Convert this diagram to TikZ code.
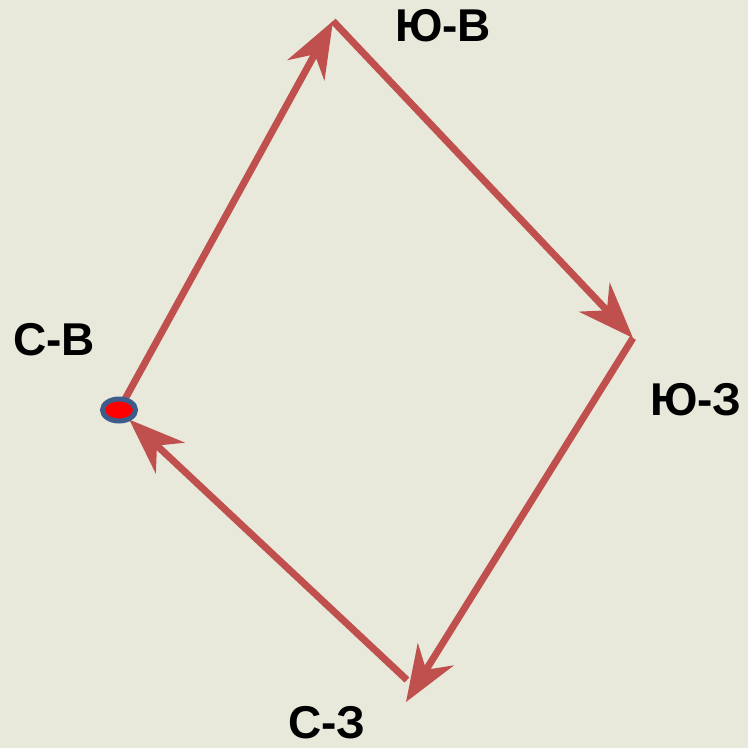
\documentclass[tikz,border=0pt]{standalone}
\usepackage{fontspec}
\setmainfont{Liberation Sans}
\usetikzlibrary{arrows.meta, shapes.geometric}
\definecolor{fondo}{RGB}{232,232,219}
\definecolor{rojo}{RGB}{192,80,77}
\definecolor{azul}{RGB}{60,92,140}
\begin{document}
\begin{tikzpicture}[x=1pt, y=-1pt,
    every node/.style={font=\fontsize{46}{46}\selectfont\bfseries, inner sep=0pt},
    vec/.style={-{Stealth[length=56pt, width=42pt, inset=18pt]}, line width=7pt, rojo},
    punto/.style={ellipse, draw=azul, line width=5pt, fill=red, minimum width=33pt, minimum height=22pt, inner sep=0pt}
]
  % Fondo
  \fill[fondo] (0,0) rectangle (748,748);
  \useasboundingbox (0,0) rectangle (748,748);

  % Vertices del recorrido
  \coordinate (sv) at (119,410);
  \coordinate (yuv) at (333,21);
  \coordinate (yuz) at (633,338);
  \coordinate (sz) at (406,702);
  \coordinate (szs) at (407,680);

  % Flechas
  \draw[vec] (sv) -- (yuv);
  \draw[vec] (yuv) -- (yuz);
  \draw[vec] (yuz) -- (sz);
  \draw[vec, shorten >=14pt] (szs) -- (sv);

  % Punto de partida
  \node[punto] (inicio) at (sv) {};

  % Rotulos
  \node (lsv) at (54,340) {С-В};
  \node (lyuv) at (443,26) {Ю-В};
  \node (lyuz) at (696,400) {Ю-З};
  \node (lsz) at (327,723) {С-З};
\end{tikzpicture}
\end{document}
